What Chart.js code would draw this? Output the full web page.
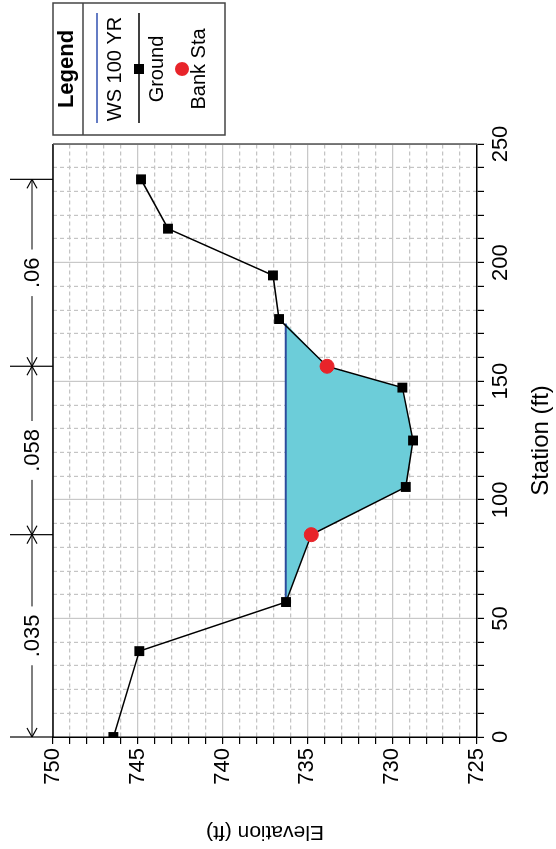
<!DOCTYPE html>
<html>
<head>
<meta charset="utf-8">
<script src="https://cdn.jsdelivr.net/npm/chart.js@4.4.0/dist/chart.umd.min.js"></script>
<style>
html, body { margin: 0; padding: 0; background: #fff; width: 556px; height: 849px; overflow: hidden; }
/* chart is drawn in normal orientation and then turned a quarter turn to the left */
#wrap { position: absolute; left: 0; top: 0; width: 849px; height: 556px; transform-origin: 0 0; transform: translate(0, 849px) rotate(-90deg); }
</style>
</head>
<body>
<div id="wrap"><canvas id="xs" width="849" height="556"></canvas></div>
<script>
// Cross section data
const groundStation = [0, 36.2, 56.9, 85.3, 105.4, 125.0, 147.3, 156.3, 176.2, 194.6, 214.3, 235.1];
const groundElev = [746.44, 744.91, 736.26, 734.77, 729.20, 728.77, 729.40, 733.84, 736.67, 737.03, 743.22, 744.81];
const bankStation = [85.3, 156.3];
const bankElev = [734.77, 733.84];
const wsElev = 736.27;
const wsStart = 56.9;
const wsEnd = 174.3;
const nBreaks = [0, 85.3, 156.3, 235.1];
const nValues = ['.035', '.058', '.06'];
const legendLabels = ['WS 100 YR', 'Ground', 'Bank Sta'];

const FONT = '"Liberation Sans Narrow", "Liberation Sans", Arial, sans-serif';

const ground = groundStation.map((s, i) => ({ x: s, y: groundElev[i] }));
const banks = bankStation.map((s, i) => ({ x: s, y: bankElev[i] }));
const water = [{ x: wsStart, y: wsElev }];
groundStation.forEach((s, i) => {
    if (s > wsStart && s < wsEnd) water.push({ x: s, y: groundElev[i] });
});
water.push({ x: wsEnd, y: wsElev });

// top and right edges of the plot box
const frame = {
    id: 'frame',
    beforeDatasetsDraw(chart) {
        const { ctx, chartArea: a } = chart;
        ctx.save();
        ctx.lineWidth = 1.5;
        ctx.strokeStyle = '#000';
        ctx.beginPath();
        ctx.moveTo(a.left, a.top);
        ctx.lineTo(a.right, a.top);
        ctx.stroke();
        ctx.strokeStyle = '#555';
        ctx.beginPath();
        ctx.moveTo(a.right, a.top);
        ctx.lineTo(a.right, a.bottom);
        ctx.stroke();
        ctx.restore();
    }
};

// Manning's n dimension lines above the plot
const nLabels = {
    id: 'nLabels',
    afterDraw(chart) {
        const { ctx, chartArea: a } = chart;
        const xs = chart.scales.x;
        const yl = 32;
        const seg = (x1, y1, x2, y2) => { ctx.beginPath(); ctx.moveTo(x1, y1); ctx.lineTo(x2, y2); ctx.stroke(); };
        ctx.save();
        ctx.strokeStyle = '#000';
        ctx.lineWidth = 1.2;
        nBreaks.forEach(s => {
            const px = xs.getPixelForValue(s);
            seg(px, 10, px, a.top);
        });
        ctx.font = '22px ' + FONT;
        ctx.fillStyle = '#000';
        ctx.textAlign = 'center';
        ctx.textBaseline = 'middle';
        nValues.forEach((label, i) => {
            const p1 = xs.getPixelForValue(nBreaks[i]);
            const p2 = xs.getPixelForValue(nBreaks[i + 1]);
            const mid = (p1 + p2) / 2;
            const half = ctx.measureText(label).width / 2 + 8;
            seg(p1, yl, mid - half, yl);
            seg(mid + half, yl, p2, yl);
            seg(p1 + 9, yl - 5, p1, yl); seg(p1, yl, p1 + 9, yl + 5);
            seg(p2 - 9, yl - 5, p2, yl); seg(p2, yl, p2 - 9, yl + 5);
            ctx.fillText(label, mid, yl + 1);
        });
        ctx.restore();
    }
};

// legend box at the right
const legendBox = {
    id: 'legendBox',
    afterDraw(chart) {
        const { ctx, chartArea: a } = chart;
        const left = a.right + 9, right = left + 132, top = 53, bottom = 225;
        const cx = (left + right) / 2;
        ctx.save();
        ctx.fillStyle = '#fff';
        ctx.fillRect(left, top, right - left, bottom - top);
        ctx.strokeStyle = '#444';
        ctx.lineWidth = 1.5;
        ctx.strokeRect(left, top, right - left, bottom - top);
        ctx.beginPath(); ctx.moveTo(left, 83); ctx.lineTo(right, 83); ctx.stroke();
        ctx.fillStyle = '#000';
        ctx.textAlign = 'center';
        ctx.textBaseline = 'middle';
        ctx.font = 'bold 22px ' + FONT;
        ctx.fillText('Legend', cx, 67);
        ctx.font = '20px ' + FONT;
        // WS
        ctx.strokeStyle = '#3050b0';
        ctx.lineWidth = 1.5;
        ctx.beginPath(); ctx.moveTo(left + 12, 97); ctx.lineTo(right - 10, 97); ctx.stroke();
        ctx.fillText(legendLabels[0], cx, 115);
        // Ground
        ctx.strokeStyle = '#000';
        ctx.beginPath(); ctx.moveTo(left + 12, 139); ctx.lineTo(right - 10, 139); ctx.stroke();
        ctx.fillRect(cx - 5, 134, 10, 10);
        ctx.fillText(legendLabels[1], cx, 157);
        // Bank Sta
        ctx.fillStyle = '#e8242a';
        ctx.beginPath(); ctx.arc(cx, 182, 7, 0, Math.PI * 2); ctx.fill();
        ctx.fillStyle = '#000';
        ctx.fillText(legendLabels[2], cx, 199);
        ctx.restore();
    }
};

const gridColor = c => (c.tick && c.tick.major5) ? '#c8c8c8' : '#c4c4c4';

new Chart(document.getElementById('xs').getContext('2d'), {
    type: 'line',
    data: {
        datasets: [{
            label: legendLabels[2],
            data: banks,
            showLine: false,
            pointRadius: 7,
            pointBackgroundColor: '#e8242a',
            pointBorderColor: '#e8242a',
            order: 0
        }, {
            label: legendLabels[1],
            data: ground,
            borderColor: '#000',
            borderWidth: 1.5,
            pointStyle: 'rect',
            pointRadius: 7,
            pointBackgroundColor: '#000',
            pointBorderColor: '#000',
            pointBorderWidth: 0,
            fill: false,
            tension: 0,
            order: 1
        }, {
            label: legendLabels[0],
            data: [{ x: wsStart, y: wsElev }, { x: wsEnd, y: wsElev }],
            borderColor: '#2c4c9c',
            borderWidth: 2,
            pointRadius: 0,
            fill: false,
            order: 2
        }, {
            label: 'water',
            data: water,
            borderWidth: 0,
            borderColor: 'rgba(0,0,0,0)',
            backgroundColor: '#6ccdd9',
            pointRadius: 0,
            fill: { value: wsElev },
            tension: 0,
            order: 3
        }]
    },
    options: {
        responsive: false,
        animation: false,
        layout: { padding: { left: 0, top: 53, right: 144, bottom: 0 } },
        plugins: { legend: { display: false }, tooltip: { enabled: false } },
        scales: {
            x: {
                type: 'linear',
                min: 0, max: 250,
                afterFit: s => { s.height = 79; },
                afterBuildTicks: s => { s.ticks.forEach(t => { t.major5 = t.value % 50 === 0; }); },
                ticks: {
                    stepSize: 10, autoSkip: false, maxRotation: 0, minRotation: 0,
                    padding: 4, color: '#000', font: { family: FONT, size: 22 },
                    callback: v => (v % 50 === 0 ? v : '')
                },
                grid: { color: gridColor, lineWidth: 1.2, tickColor: '#000', tickLength: 7 },
                border: { color: '#000', width: 1.5, dash: c => (c.tick && !c.tick.major5) ? [4, 3] : [] },
                title: { display: true, text: 'Station (ft)', color: '#000', font: { family: FONT, size: 24 }, padding: { top: 0, bottom: 0 } }
            },
            y: {
                min: 725, max: 750,
                afterFit: s => { s.width = 112; },
                afterBuildTicks: s => { s.ticks.forEach(t => { t.major5 = t.value % 5 === 0; }); },
                ticks: {
                    stepSize: 1, autoSkip: false,
                    padding: 4, color: '#000', font: { family: FONT, size: 22 },
                    callback: v => (v % 5 === 0 ? v : '')
                },
                grid: { color: gridColor, lineWidth: 1.2, tickColor: '#000', tickLength: 7 },
                border: { color: '#000', width: 1.5, dash: c => (c.tick && !c.tick.major5) ? [4, 3] : [] },
                title: { display: true, text: 'Elevation (ft)', color: '#000', font: { family: FONT, size: 21 }, padding: { top: 5, bottom: 0 } }
            }
        }
    },
    plugins: [frame, nLabels, legendBox]
});
</script>
</body>
</html>
